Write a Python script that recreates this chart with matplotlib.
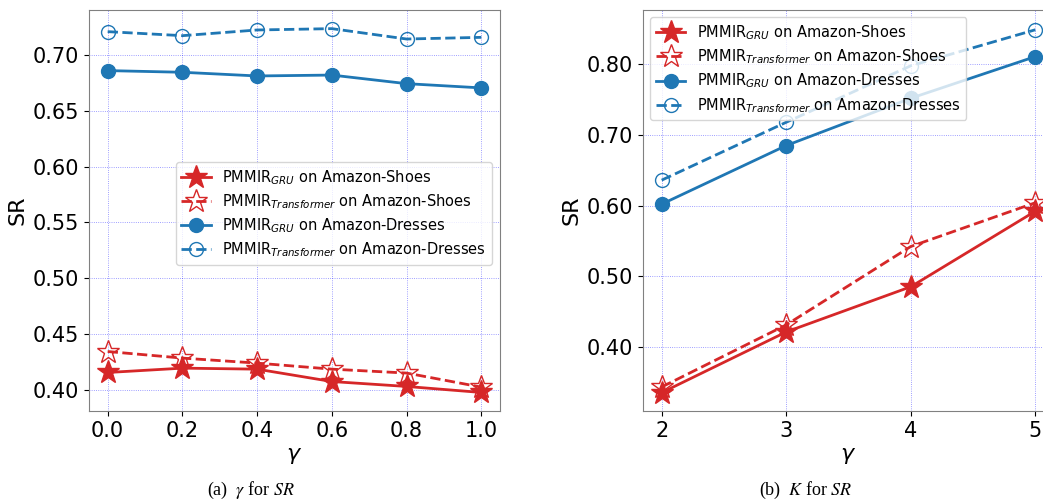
import numpy as np
import matplotlib
matplotlib.use('Agg')
from matplotlib import pyplot as plt
from matplotlib.ticker import FormatStrFormatter

# (a) gamma sweep
gamma = [0.0, 0.2, 0.4, 0.6, 0.8, 1.0]
gru_shoes_a = [0.4155, 0.4194, 0.4185, 0.4074, 0.4030, 0.3976]
trf_shoes_a = [0.4343, 0.4284, 0.4239, 0.4185, 0.4150, 0.4024]
gru_dress_a = [0.6860, 0.6845, 0.6812, 0.6820, 0.6743, 0.6705]
trf_dress_a = [0.7209, 0.7173, 0.7224, 0.7236, 0.7143, 0.7158]

# (b) K sweep
K = [2, 3, 4, 5]
gru_shoes_b = [0.335, 0.421, 0.485, 0.592]
trf_shoes_b = [0.343, 0.431, 0.542, 0.604]
gru_dress_b = [0.602, 0.685, 0.752, 0.811]
trf_dress_b = [0.636, 0.718, 0.798, 0.849]

labels = [r'PMMIR$_{GRU}$ on Amazon-Shoes',
          r'PMMIR$_{Transformer}$ on Amazon-Shoes',
          r'PMMIR$_{GRU}$ on Amazon-Dresses',
          r'PMMIR$_{Transformer}$ on Amazon-Dresses']

red = '#d62728'
blue = '#1f77b4'

fig = plt.figure(figsize=(10.43, 5), dpi=100)
ax1 = fig.add_axes([89/1043, 1-411/500, 411/1043, 401/500])
ax2 = fig.add_axes([643/1043, 1-411/500, 411/1043, 401/500])


def draw(ax, x, s1, s2, d1, d2):
    ax.plot(x, s1, '-', color=red, marker='*', ms=17, lw=2, label=labels[0])
    ax.plot(x, s2, '--', color=red, marker='*', ms=17, mfc='none', mew=1, lw=2, label=labels[1])
    ax.plot(x, d1, '-', color=blue, marker='o', ms=10, lw=2, label=labels[2])
    ax.plot(x, d2, '--', color=blue, marker='o', ms=10, mfc='none', mew=1, lw=2, label=labels[3])
    ax.grid(True, color='blue', linestyle=':', linewidth=0.6, alpha=0.5)
    ax.tick_params(labelsize=15)
    ax.set_xlabel(r'$\gamma$', fontsize=16)
    ax.set_ylabel('SR', fontsize=16)
    for sp in ax.spines.values():
        sp.set_color('#808080')


draw(ax1, gamma, gru_shoes_a, trf_shoes_a, gru_dress_a, trf_dress_a)
ax1.set_xlim(-0.05, 1.05)
ax1.set_ylim(0.381, 0.7403)
ax1.set_xticks(gamma)
ax1.set_yticks(np.arange(0.40, 0.701, 0.05))
ax1.xaxis.set_major_formatter(FormatStrFormatter('%.1f'))
ax1.yaxis.set_major_formatter(FormatStrFormatter('%.2f'))
ax1.legend(fontsize=10.5, loc='upper right', bbox_to_anchor=(0.98, 0.621),
           borderaxespad=0, labelspacing=0.38)

draw(ax2, K, gru_shoes_b, trf_shoes_b, gru_dress_b, trf_dress_b)
ax2.set_xlim(1.85, 5.15)
ax2.set_ylim(0.309, 0.877)
ax2.set_xticks(K)
ax2.set_yticks(np.arange(0.40, 0.801, 0.10))
ax2.yaxis.set_major_formatter(FormatStrFormatter('%.2f'))
ax2.legend(fontsize=10.5, loc='upper left', labelspacing=0.38)

fig.text(251/1043, 1-490/500, r'(a)  $\gamma$ for $SR$', ha='center', va='center',
         fontsize=13, family='Liberation Serif', math_fontfamily='stix')
fig.text(806/1043, 1-490/500, r'(b)  $K$ for $SR$', ha='center', va='center',
         fontsize=13, family='Liberation Serif', math_fontfamily='stix')

fig.savefig('out.png', dpi=100)
